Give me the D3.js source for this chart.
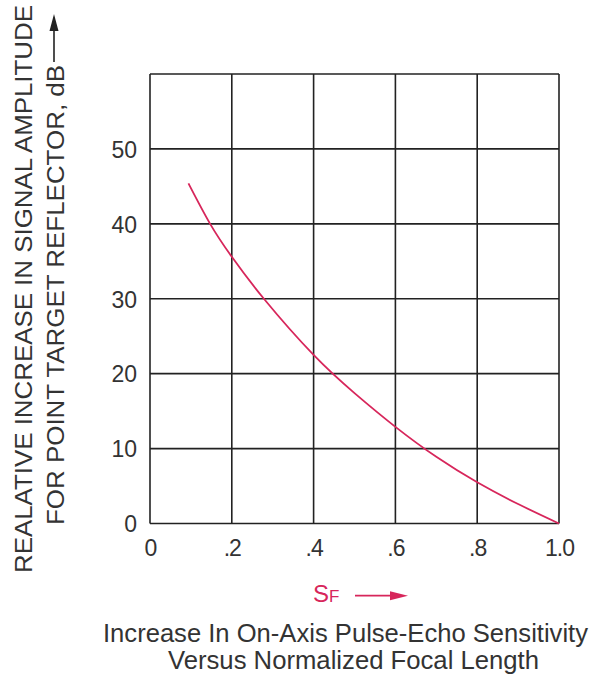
<!DOCTYPE html>
<html>
<head>
<meta charset="utf-8">
<script src="https://cdn.jsdelivr.net/npm/d3@7"></script>
<style>
  html, body { margin: 0; padding: 0; background: #fff; }
  svg { display: block; font-family: "Liberation Sans", Arial, Helvetica, sans-serif; }
</style>
</head>
<body>
<svg id="chart" width="599" height="681"></svg>
<script>
// Normalized focal length S_F and the relative signal gain in dB
const sfValues = [0.094, 0.147, 0.2, 0.28, 0.4, 0.5, 0.6, 0.7, 0.8, 0.9, 1.0];
const dbValues = [45.4, 40.0, 35.6, 29.9, 22.5, 17.4, 12.9, 8.9, 5.5, 2.6, 0.0];

const xTicks = [0, 0.2, 0.4, 0.6, 0.8, 1.0];
const xTickLabels = ["0", ".2", ".4", ".6", ".8", "1.0"];
const yGrid = [0, 10, 20, 30, 40, 50, 60];
const yTickLabels = ["0", "10", "20", "30", "40", "50"];

const yTitleLines = ["REALATIVE INCREASE IN SIGNAL AMPLITUDE", "FOR POINT TARGET REFLECTOR, dB"];
const captionLines = ["Increase In On-Axis Pulse-Echo Sensitivity", "Versus Normalized Focal Length"];

const accent = "#d7265b";
const ink = "#333";

const svg = d3.select("#chart");
const x = d3.scaleLinear().domain([0, 1]).range([150, 559]);
const y = d3.scaleLinear().domain([0, 60]).range([523.5, 74]);

// grid
const grid = svg.append("g").attr("stroke", "#222").attr("stroke-width", 1.6);
grid.selectAll("line.v").data(xTicks).join("line")
  .attr("class", "v")
  .attr("x1", d => x(d)).attr("x2", d => x(d))
  .attr("y1", y(0)).attr("y2", y(60));
grid.selectAll("line.h").data(yGrid).join("line")
  .attr("class", "h")
  .attr("x1", x(0)).attr("x2", x(1))
  .attr("y1", d => y(d)).attr("y2", d => y(d));

// tick labels through axes (no tick marks or domain)
const yAxis = d3.axisLeft(y).tickValues(yTickLabels.map(Number)).tickSize(0).tickPadding(13)
  .tickFormat((d, i) => yTickLabels[i]);
svg.append("g").attr("transform", `translate(${x(0)},0)`).call(yAxis)
  .call(g => g.select(".domain").remove())
  .call(g => g.selectAll("text").attr("font-size", 23).attr("fill", ink)
    .attr("font-family", "Liberation Sans, Arial, sans-serif").attr("dy", "0.36em"));

const xAxis = d3.axisBottom(x).tickValues(xTicks).tickSize(0).tickPadding(16)
  .tickFormat((d, i) => xTickLabels[i]);
svg.append("g").attr("transform", `translate(0,${y(0)})`).call(xAxis)
  .call(g => g.select(".domain").remove())
  .call(g => g.selectAll("text").attr("font-size", 23).attr("fill", ink)
    .attr("letter-spacing", "-1px")
    .attr("font-family", "Liberation Sans, Arial, sans-serif"));

// curve
const line = d3.line()
  .x(d => x(d[0])).y(d => y(d[1]))
  .curve(d3.curveNatural);
svg.append("path")
  .datum(sfValues.map((s, i) => [s, dbValues[i]]))
  .attr("d", line)
  .attr("fill", "none")
  .attr("stroke", accent)
  .attr("stroke-width", 1.8);

// vertical axis title
svg.append("text")
  .attr("transform", "translate(32,289) rotate(-90)")
  .attr("text-anchor", "middle")
  .attr("font-size", 23).attr("fill", ink)
  .attr("textLength", 568).attr("lengthAdjust", "spacingAndGlyphs")
  .text(yTitleLines[0]);
svg.append("text")
  .attr("transform", "translate(63.5,295) rotate(-90)")
  .attr("text-anchor", "middle")
  .attr("font-size", 23).attr("fill", ink)
  .attr("textLength", 460).attr("lengthAdjust", "spacingAndGlyphs")
  .text(yTitleLines[1]);
svg.append("line")
  .attr("x1", 54).attr("x2", 54).attr("y1", 62).attr("y2", 28)
  .attr("stroke", "#222").attr("stroke-width", 1.6);
svg.append("path")
  .attr("d", "M54,14 L49.5,31 L58.5,31 Z")
  .attr("fill", "#222");

// S_F label with arrow
const sf = svg.append("text")
  .attr("x", 313).attr("y", 602)
  .attr("fill", accent).attr("font-size", 24);
sf.append("tspan").text("S");
sf.append("tspan").attr("font-size", 17).text("F");
svg.append("line")
  .attr("x1", 355).attr("x2", 393).attr("y1", 595.7).attr("y2", 595.7)
  .attr("stroke", accent).attr("stroke-width", 1.8);
svg.append("path")
  .attr("d", "M408,595.7 L390,591.2 L390,600.2 Z")
  .attr("fill", accent);

// caption
const captionWidths = [485, 371];
svg.selectAll("text.caption").data(captionLines).join("text")
  .attr("class", "caption")
  .attr("x", (d, i) => i === 0 ? 345.5 : 353.5)
  .attr("y", (d, i) => i === 0 ? 641.5 : 668.5)
  .attr("text-anchor", "middle")
  .attr("font-size", 25).attr("fill", ink)
  .attr("textLength", (d, i) => captionWidths[i])
  .attr("lengthAdjust", "spacingAndGlyphs")
  .text(d => d);
</script>
</body>
</html>
